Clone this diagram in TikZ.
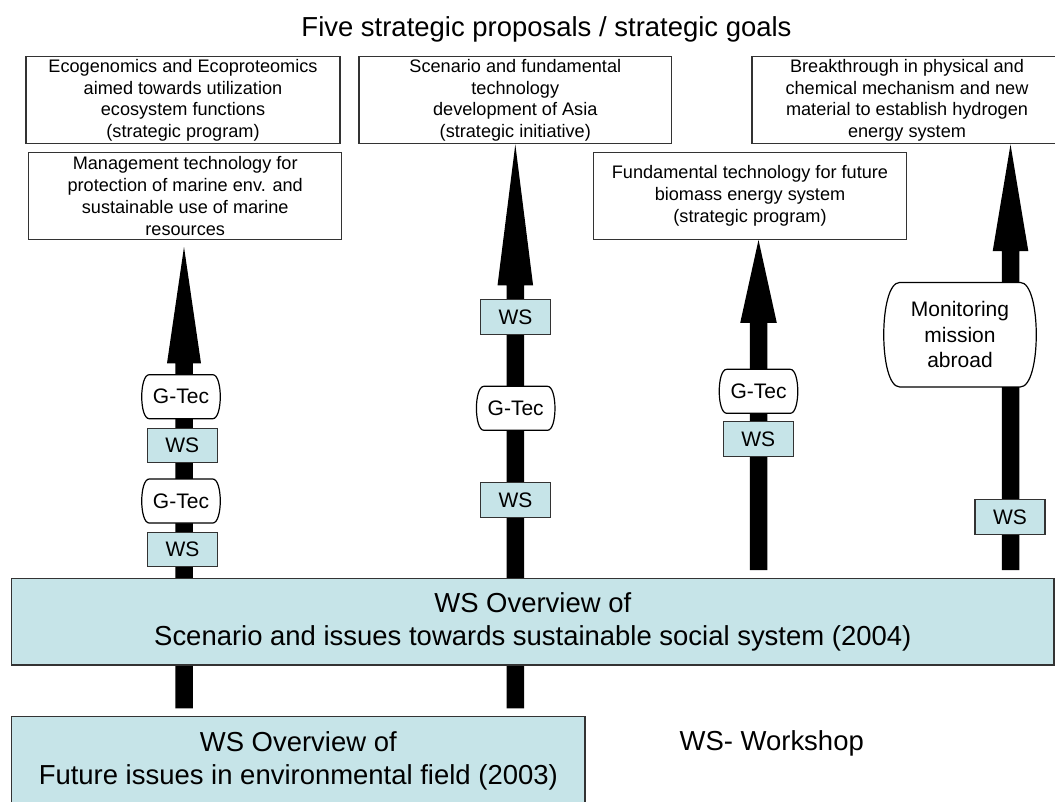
\documentclass[tikz,border=0pt]{standalone}
\usepackage{fontspec}
\setmainfont{Liberation Sans}
\usetikzlibrary{calc}
\pgfdeclarelayer{bg}
\pgfdeclarelayer{mid}
\pgfsetlayers{bg,mid,main}
\definecolor{wsfill}{HTML}{C6E4E8}
\definecolor{edgegray}{HTML}{333333}
\tikzset{
  goalbox/.style={draw=edgegray, line width=0.9pt, fill=white, inner sep=0pt, align=center,
    minimum width=234.5pt, minimum height=65.3pt, font=\fontsize{13.6pt}{16.4pt}\selectfont,
    execute at begin node={\rule{0pt}{14.5pt}}},
  wsbox/.style={draw=edgegray, line width=0.9pt, fill=wsfill, inner sep=0pt,
    minimum width=52.5pt, minimum height=26pt, font=\fontsize{15.75pt}{19pt}\selectfont},
  gtec/.style={draw=none, inner sep=0pt, minimum width=58.5pt, minimum height=32.6pt,
    font=\fontsize{15.75pt}{19pt}\selectfont},
  mission/.style={draw=none, inner sep=0pt, align=center, minimum width=114pt, minimum height=78pt,
    font=\fontsize{15.75pt}{19.1pt}\selectfont},
  overview/.style={draw=edgegray, line width=0.9pt, fill=wsfill, inner sep=0pt, align=center,
    font=\fontsize{20.6pt}{25pt}\selectfont, execute at begin node={\rule{0pt}{19.4pt}}},
  bulge/.style={draw=black, line width=0.9pt, fill=white},
  bigtext/.style={font=\fontsize{20.6pt}{25pt}\selectfont}
}
% block arrow: base coordinate, tip, head length (px), head half width (px)
\newcommand\blockarr[4]{%
  \fill let \p1=(#1), \p2=(#2) in
    (\x1-6.5625pt,\y1) -- (\x1-6.5625pt,\y2-#3*0.75pt) -- (\x1-#4*0.75pt,\y2-#3*0.75pt)
    -- (\x1,\y2) -- (\x1+#4*0.75pt,\y2-#3*0.75pt) -- (\x1+6.5625pt,\y2-#3*0.75pt)
    -- (\x1+6.5625pt,\y1) -- cycle;}
% box with bulging sides: node name, inset a (px)
\newcommand\bulgeshape[2]{%
  \draw[bulge] ([xshift=#2*0.75pt]#1.north west) -- ([xshift=-#2*0.75pt]#1.north east)
    .. controls ([xshift=#2*0.25pt]#1.north east) and ([xshift=#2*0.25pt]#1.south east) .. ([xshift=-#2*0.75pt]#1.south east)
    -- ([xshift=#2*0.75pt]#1.south west)
    .. controls ([xshift=-#2*0.25pt]#1.south west) and ([xshift=-#2*0.25pt]#1.north west) .. ([xshift=#2*0.75pt]#1.north west)
    -- cycle;}
\begin{document}
\begin{tikzpicture}[x=0.75pt, y=-0.75pt]
\useasboundingbox (0,0) rectangle (1055,801);
\clip (0,0) rectangle (1055,801);

% title
\node[anchor=base, bigtext] (title) at (546.5,36) {Five strategic proposals / strategic goals};

% goal boxes
\node[goalbox, minimum width=235.5pt] (b1) at (183,100.3) {Ecogenomics and Ecoproteomics\\aimed towards utilization\\ecosystem functions\\(strategic program)};
\node[goalbox] (b2) at (185.2,195.8) {Management technology for\\protection of marine env. and\\sustainable use of marine\\resources};
\node[goalbox] (b3) at (515.3,100.3) {Scenario and fundamental\\technology\\development of Asia\\(strategic initiative)};
\node[goalbox, minimum width=232.5pt] (b4) at (907,100.3) {Breakthrough in physical and\\chemical mechanism and new\\material to establish hydrogen\\energy system};
\node[goalbox, execute at begin node={\rule{0pt}{16pt}}] (b5) at (750,195.8) {Fundamental technology for future\\biomass energy system\\(strategic program)};

% overview boxes
\node[overview, minimum width=781.7pt, minimum height=65pt] (ov2004) at (532.8,621.7)
  {WS Overview of\\Scenario and issues towards sustainable social system (2004)};
\node[overview, minimum width=430pt, minimum height=66pt] (ov2003) at (298.3,760.7)
  {WS Overview of\\Future issues in environmental field (2003)};
\node[bigtext] (legend) at (771.7,743.3) {WS- Workshop};

% column 1
\node[gtec] (g1) at (181,396.7) {G-Tec};
\node[wsbox] (w1) at (182.3,445.5) {WS};
\node[gtec] (g2) at (181,501) {G-Tec};
\node[wsbox] (w2) at (182.5,549.5) {WS};
% column 2
\node[wsbox] (w3) at (515.5,317.2) {WS};
\node[gtec] (g3) at (515.7,408.3) {G-Tec};
\node[wsbox] (w4) at (515.5,500) {WS};
% column 3
\node[gtec] (g4) at (758.5,391.3) {G-Tec};
\node[wsbox] (w5) at (758.3,439.2) {WS};
% column 4
\node[mission] (mon) at (960,334.7) {Monitoring\\mission\\abroad};
\node[wsbox] (w6) at (1010,517.2) {WS};

% rounded-side shapes
\begin{pgfonlayer}{mid}
\bulgeshape{g1}{7.5}
\bulgeshape{g2}{7.5}
\bulgeshape{g3}{7.5}
\bulgeshape{g4}{7.5}
\bulgeshape{mon}{16}
\end{pgfonlayer}

% arrows
\coordinate (a1base) at (184,708.3);
\coordinate (a1tip) at (184,247);
\coordinate (a2base) at (515.3,708.3);
\coordinate (a3base) at (758.5,570);
\coordinate (a4base) at (1010.5,570);
\begin{pgfonlayer}{bg}
\blockarr{a1base}{a1tip}{116.3}{17}
\blockarr{a2base}{b3.south}{141}{17.8}
\blockarr{a3base}{b5.south}{83}{18.3}
\blockarr{a4base}{b4.south}{106.7}{17.8}
\end{pgfonlayer}
\end{tikzpicture}
\end{document}
